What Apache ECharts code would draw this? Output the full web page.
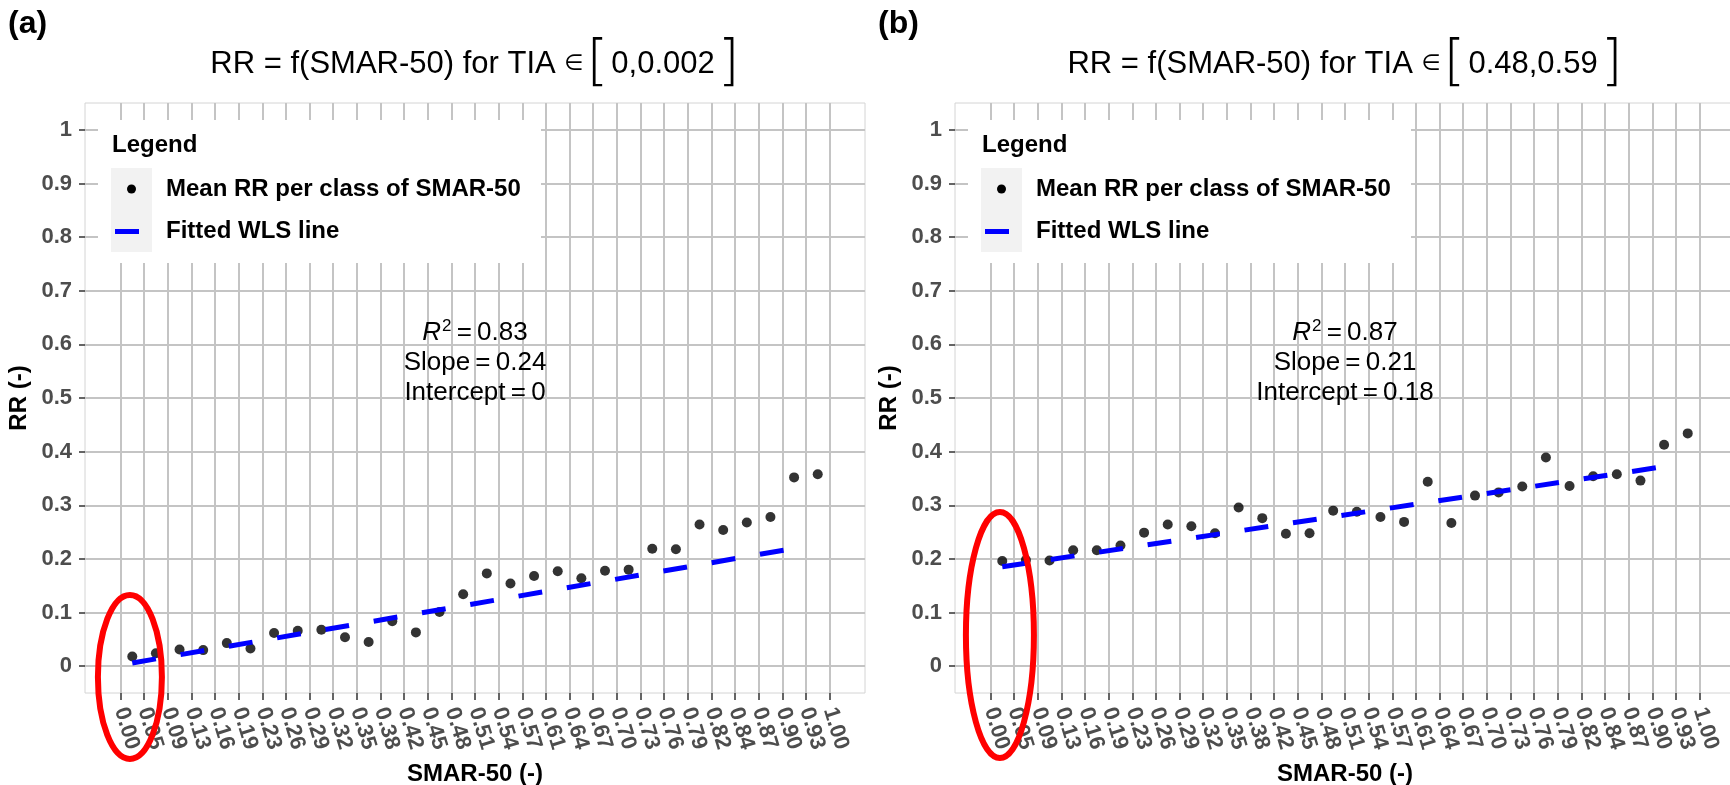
<!DOCTYPE html>
<html>
<head>
<meta charset="utf-8">
<script src="https://cdn.jsdelivr.net/npm/echarts@6/dist/echarts.min.js"></script>
<style>
  html, body { margin: 0; padding: 0; background: #ffffff; }
  #chart { width: 1730px; height: 785px; }
</style>
</head>
<body>
<div id="chart"></div>
<script>
// SMAR-50 class boundaries, used as x tick labels
const smarBreaks = ['0.00', '0.05', '0.09', '0.13', '0.16', '0.19', '0.23', '0.26', '0.29', '0.32',
  '0.35', '0.38', '0.42', '0.45', '0.48', '0.51', '0.54', '0.57', '0.61', '0.64',
  '0.67', '0.70', '0.73', '0.76', '0.79', '0.82', '0.84', '0.87', '0.90', '0.93', '1.00'];

// RR tick values
const rrTicks = [0, 0.1, 0.2, 0.3, 0.4, 0.5, 0.6, 0.7, 0.8, 0.9, 1];

// Mean RR per SMAR-50 class, TIA in [0, 0.002]
const rrMeanA = [0.018, 0.024, 0.031, 0.030, 0.043, 0.033, 0.062, 0.066, 0.068, 0.054,
  0.045, 0.084, 0.063, 0.101, 0.134, 0.173, 0.154, 0.168, 0.177, 0.164,
  0.178, 0.180, 0.219, 0.218, 0.264, 0.254, 0.268, 0.278, 0.352, 0.358];

// Mean RR per SMAR-50 class, TIA in [0.48, 0.59]
const rrMeanB = [0.196, 0.198, 0.197, 0.216, 0.216, 0.225, 0.249, 0.264, 0.261, 0.248,
  0.296, 0.276, 0.247, 0.248, 0.290, 0.288, 0.278, 0.269, 0.344, 0.267,
  0.318, 0.324, 0.335, 0.389, 0.336, 0.354, 0.358, 0.346, 0.413, 0.434];

// WLS fit statistics
const fitA = { r2: '0.83', slope: 0.24, intercept: 0 };
const fitB = { r2: '0.87', slope: 0.21, intercept: 0.18 };

// first and last class covered by the fitted line
const fitClasses = [0, 28];

// TIA intervals shown in the panel titles
const tiaRanges = ['0,0.002', '0.48,0.59'];
const panelTags = ['(a)', '(b)'];

const FONT = "'Liberation Sans', Arial, Helvetica, sans-serif";
const GRID_TOP = 103, GRID_W = 780, GRID_H = 590;
const panelLefts = [85, 955];

const panels = [
  { means: rrMeanA, fit: fitA, tia: tiaRanges[0], tag: panelTags[0] },
  { means: rrMeanB, fit: fitB, tia: tiaRanges[1], tag: panelTags[1] }
];

const breakIdx = smarBreaks.map((_, i) => i);
const classMid = k => (parseFloat(smarBreaks[k]) + parseFloat(smarBreaks[k + 1])) / 2;

const chart = echarts.init(document.getElementById('chart'), null, { renderer: 'canvas' });

const grid = [], xAxis = [], yAxis = [], series = [];
panels.forEach((p, i) => {
  grid.push({
    left: panelLefts[i], top: GRID_TOP, width: GRID_W, height: GRID_H,
    show: true, backgroundColor: '#ffffff', borderColor: '#d4d4d4', borderWidth: 1,
    containLabel: false, outerBoundsMode: 'none'
  });
  xAxis.push({
    type: 'value', gridIndex: i, min: -1.5, max: 31.5,
    axisLine: { show: false, onZero: false },
    axisTick: { show: true, length: 7, customValues: breakIdx, lineStyle: { color: '#333333', width: 1.5 } },
    axisLabel: {
      customValues: breakIdx, formatter: v => smarBreaks[Math.round(v)],
      rotate: -73, margin: 15, fontSize: 22, fontWeight: 'bold', color: '#4d4d4d', fontFamily: FONT,
      hideOverlap: false
    },
    splitLine: { show: true, lineStyle: { color: '#c4c4c4', width: 2 } },
    name: 'SMAR-50 (-)', nameLocation: 'middle', nameGap: 69,
    nameTextStyle: { fontSize: 24, fontWeight: 'bold', color: '#000000', fontFamily: FONT }
  });
  yAxis.push({
    type: 'value', gridIndex: i, min: -0.05, max: 1.05,
    axisLine: { show: false, onZero: false },
    axisTick: { show: true, length: 6, customValues: rrTicks, lineStyle: { color: '#333333', width: 1.5 } },
    axisLabel: {
      customValues: rrTicks, formatter: v => String(Math.round(v * 10) / 10),
      margin: 13, fontSize: 22, fontWeight: 'bold', color: '#4d4d4d', fontFamily: FONT
    },
    splitLine: { show: true, lineStyle: { color: '#c4c4c4', width: 2 } },
    name: 'RR (-)', nameLocation: 'middle', nameGap: 54, nameRotate: 90,
    nameTextStyle: { fontSize: 24, fontWeight: 'bold', color: '#000000', fontFamily: FONT }
  });
  series.push({
    type: 'scatter', xAxisIndex: i, yAxisIndex: i, silent: true, z: 3,
    symbol: 'circle', symbolSize: 10, itemStyle: { color: '#000000' },
    data: p.means.map((v, k) => [k + 0.5, v])
  });
  const f = p.fit;
  series.push({
    type: 'line', xAxisIndex: i, yAxisIndex: i, silent: true, z: 4,
    symbol: 'none', showSymbol: false,
    lineStyle: { color: '#0000ff', width: 5, type: [24, 25], cap: 'butt' },
    data: fitClasses.map(k => [k + 0.5, f.intercept + f.slope * classMid(k)])
  });
});

chart.setOption({
  animation: false,
  backgroundColor: '#ffffff',
  grid, xAxis, yAxis, series
});

// titles, legends, fit statistics and highlight ellipses
const graphic = [];
panels.forEach((p, i) => {
  const L = panelLefts[i];
  const cx = L + GRID_W / 2;
  graphic.push({
    type: 'text', x: L - 77, y: 8, z: 100,
    style: { text: p.tag, font: "bold 32px " + FONT, fill: '#000000' }
  });
  graphic.push({
    type: 'text', x: cx, y: 64, z: 100,
    style: {
      text: 'RR = f(SMAR-50) for TIA {el|\u2208}{br|[}{v|' + p.tia + '}{br|]}',
      font: "31px " + FONT, fill: '#000000', align: 'center', verticalAlign: 'middle',
      rich: {
        el: { fontSize: 22, fontFamily: "'DejaVu Sans'", padding: [0, 3, 0, 0] },
        br: { fontSize: 56, fontFamily: "'DejaVu Sans'", fontWeight: 200 },
        v: { fontSize: 31, fontFamily: FONT, padding: [0, 3, 0, 3] }
      }
    }
  });
  // legend box
  graphic.push({ type: 'rect', z: 100, shape: { x: L + 13, y: 120, width: 443, height: 143 }, style: { fill: '#ffffff' } });
  graphic.push({ type: 'text', z: 101, x: L + 27, y: 145,
    style: { text: 'Legend', font: "bold 24px " + FONT, fill: '#000000', verticalAlign: 'middle' } });
  graphic.push({ type: 'rect', z: 101, shape: { x: L + 26, y: 168, width: 41, height: 84 }, style: { fill: '#f2f2f2' } });
  graphic.push({ type: 'circle', z: 102, shape: { cx: L + 46.5, cy: 189, r: 4.5 }, style: { fill: '#000000' } });
  graphic.push({ type: 'line', z: 102, shape: { x1: L + 30, y1: 231.5, x2: L + 63, y2: 231.5 },
    style: { stroke: '#0000ff', lineWidth: 5, lineDash: [24, 25], lineCap: 'butt' } });
  graphic.push({ type: 'text', z: 101, x: L + 81, y: 189,
    style: { text: 'Mean RR per class of SMAR-50', font: "bold 24px " + FONT, fill: '#000000', verticalAlign: 'middle' } });
  graphic.push({ type: 'text', z: 101, x: L + 81, y: 231.5,
    style: { text: 'Fitted WLS line', font: "bold 24px " + FONT, fill: '#000000', verticalAlign: 'middle' } });

  // fit statistics, anchored in data space
  const ann = chart.convertToPixel({ gridIndex: i }, [15, 0.565]);
  const f = p.fit;
  graphic.push({
    type: 'text', z: 105, x: ann[0], y: ann[1],
    style: {
      text: '{i|R}{sup|2}{n|\u2009=\u20090' + f.r2.slice(1) + '}\n{n|Slope\u2009=\u2009' + f.slope + '}\n{n|Intercept\u2009=\u2009' + f.intercept + '}',
      font: "26px " + FONT, fill: '#000000', align: 'center', verticalAlign: 'middle', lineHeight: 30,
      rich: {
        i: { fontSize: 26, fontStyle: 'italic', fontFamily: FONT, lineHeight: 30 },
        sup: { fontSize: 17, fontFamily: FONT, verticalAlign: 'top', lineHeight: 30, padding: [0, 0, 10, 1] },
        n: { fontSize: 26, fontFamily: FONT, lineHeight: 30 }
      }
    }
  });

  // highlight around the first SMAR-50 class
  const ec = chart.convertToPixel({ gridIndex: i }, [0.4, i === 0 ? -0.02 : 0.058]);
  graphic.push({
    type: 'ellipse', z: 110,
    shape: { cx: ec[0], cy: ec[1], rx: i === 0 ? 32 : 34, ry: i === 0 ? 82 : 123 },
    style: { fill: 'none', stroke: '#ff0000', lineWidth: 6 }
  });
});

chart.setOption({ graphic });
</script>
</body>
</html>
